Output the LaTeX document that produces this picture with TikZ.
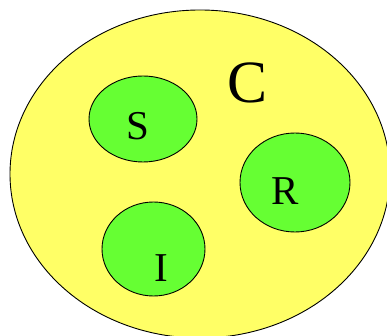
\documentclass[tikz,border=0pt]{standalone}
\usepackage{fontspec}
\setmainfont{Liberation Serif}
\usetikzlibrary{positioning,shapes.geometric}
\definecolor{pool}{HTML}{FFFF66}
\definecolor{cell}{HTML}{66FF33}
\tikzset{
  pool/.style={ellipse,draw=black,line width=0.9pt,fill=pool,inner sep=0pt},
  cell/.style={ellipse,draw=black,line width=0.9pt,fill=cell,inner sep=0pt},
  tag/.style={inner sep=0pt,font=\fontsize{41}{41}\selectfont},
}
\begin{document}
\begin{tikzpicture}[x=1pt,y=-1pt]
\useasboundingbox (0,0) rectangle (387,336);
\clip (0,0) rectangle (387,336);
\node[pool,minimum width=380pt,minimum height=328pt] (c) at (200,174) {};
\node[tag,font=\fontsize{60}{60}\selectfont] (ctag) at (247.5,82.5) {C};
\node[cell,minimum width=108pt,minimum height=86pt] (s) at (143,119) {};
\node[cell,minimum width=110pt,minimum height=99pt] (r) at (295,182.5) {};
\node[cell,minimum width=103pt,minimum height=94pt] (i) at (153.5,249) {};
\node[tag] (stag) at (138,126) {S};
\node[tag] (rtag) at (285,191.5) {R};
\node[tag] (itag) at (161,268) {I};
\end{tikzpicture}
\end{document}
